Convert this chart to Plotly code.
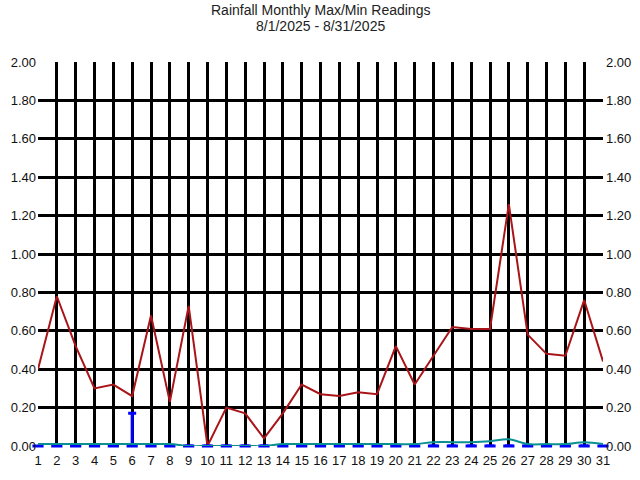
import plotly.graph_objects as go

days = list(range(1, 32))
max_vals = [0.40, 0.78, 0.52, 0.30, 0.32, 0.26, 0.68, 0.23, 0.73, 0.00,
            0.20, 0.17, 0.04, 0.17, 0.32, 0.27, 0.26, 0.28, 0.27, 0.52,
            0.32, 0.47, 0.62, 0.61, 0.61, 1.26, 0.58, 0.48, 0.47, 0.76, 0.44]
avg_vals = [0.01, 0.01, 0.01, 0.01, 0.01, 0.01, 0.01, 0.01, 0.00, 0.00,
            0.00, 0.00, 0.00, 0.01, 0.01, 0.01, 0.01, 0.01, 0.01, 0.01,
            0.01, 0.02, 0.02, 0.02, 0.025, 0.035, 0.01, 0.01, 0.01, 0.02, 0.01]
min_vals = [0.0] * 31
min_range = [0.0] * 31
min_range[5] = 0.17
y_ticks = [0.0, 0.2, 0.4, 0.6, 0.8, 1.0, 1.2, 1.4, 1.6, 1.8, 2.0]
y_labels = ["%.2f" % v for v in y_ticks]
title_lines = ["Rainfall Monthly Max/Min Readings", "8/1/2025 - 8/31/2025"]

fig = go.Figure()
fig.add_trace(go.Scatter(x=days, y=max_vals, mode="lines",
                         line=dict(color="#A81418", width=2), name="Max"))
fig.add_trace(go.Scatter(x=days, y=min_vals, mode="markers", cliponaxis=False,
                         marker=dict(symbol="line-ew", size=8, color="#0000FF",
                                     line=dict(color="#0000FF", width=3)),
                         error_y=dict(type="data", symmetric=False, array=min_range,
                                      arrayminus=[0] * 31, color="#0000FF",
                                      thickness=3, width=4),
                         name="Min"))
fig.add_trace(go.Scatter(x=days, y=avg_vals, mode="lines", cliponaxis=False,
                         line=dict(color="#0A9090", width=2, shape="spline"), name="Avg"))
fig.add_trace(go.Scatter(x=days, y=max_vals, yaxis="y2", mode="lines",
                         line=dict(width=0), hoverinfo="skip", showlegend=False,
                         opacity=0))

font = dict(family="Liberation Sans, Arial, sans-serif", size=13, color="#111111")
tfont = dict(family="Liberation Sans, Arial, sans-serif", size=14, color="#222222")
fig.update_layout(
    width=640, height=480,
    margin=dict(l=38, r=37, t=62, b=34, autoexpand=False),
    paper_bgcolor="white", plot_bgcolor="white",
    showlegend=False,
    annotations=[
        dict(text=title_lines[0], x=0.5, xref="paper", y=1, yref="paper",
             yshift=52, showarrow=False, font=tfont, xanchor="center", yanchor="middle"),
        dict(text=title_lines[1], x=0.5, xref="paper", y=1, yref="paper",
             yshift=36, showarrow=False, font=tfont, xanchor="center", yanchor="middle"),
    ],
    xaxis=dict(range=[1, 31], tickmode="array", tickvals=days,
               ticktext=[str(d) for d in days], showgrid=True, gridcolor="black",
               gridwidth=3, zeroline=False, showline=False, tickfont=font,
               ticks="", fixedrange=True, automargin=False, ticklabelstandoff=5),
    yaxis=dict(range=[0, 2], tickmode="array", tickvals=y_ticks, ticktext=y_labels,
               showgrid=True, gridcolor="black", gridwidth=3, zeroline=False,
               showline=False, tickfont=font, ticks="", ticklabelstandoff=1,
               automargin=False),
    yaxis2=dict(range=[0, 2], overlaying="y", side="right", tickmode="array",
                tickvals=y_ticks, ticktext=y_labels, showgrid=False, zeroline=False,
                tickfont=font, ticks="", showline=False, ticklabelstandoff=2,
                automargin=False),
)
fig.write_html("out.html", config={"displayModeBar": False},
               post_script="document.body.style.margin='0';")
